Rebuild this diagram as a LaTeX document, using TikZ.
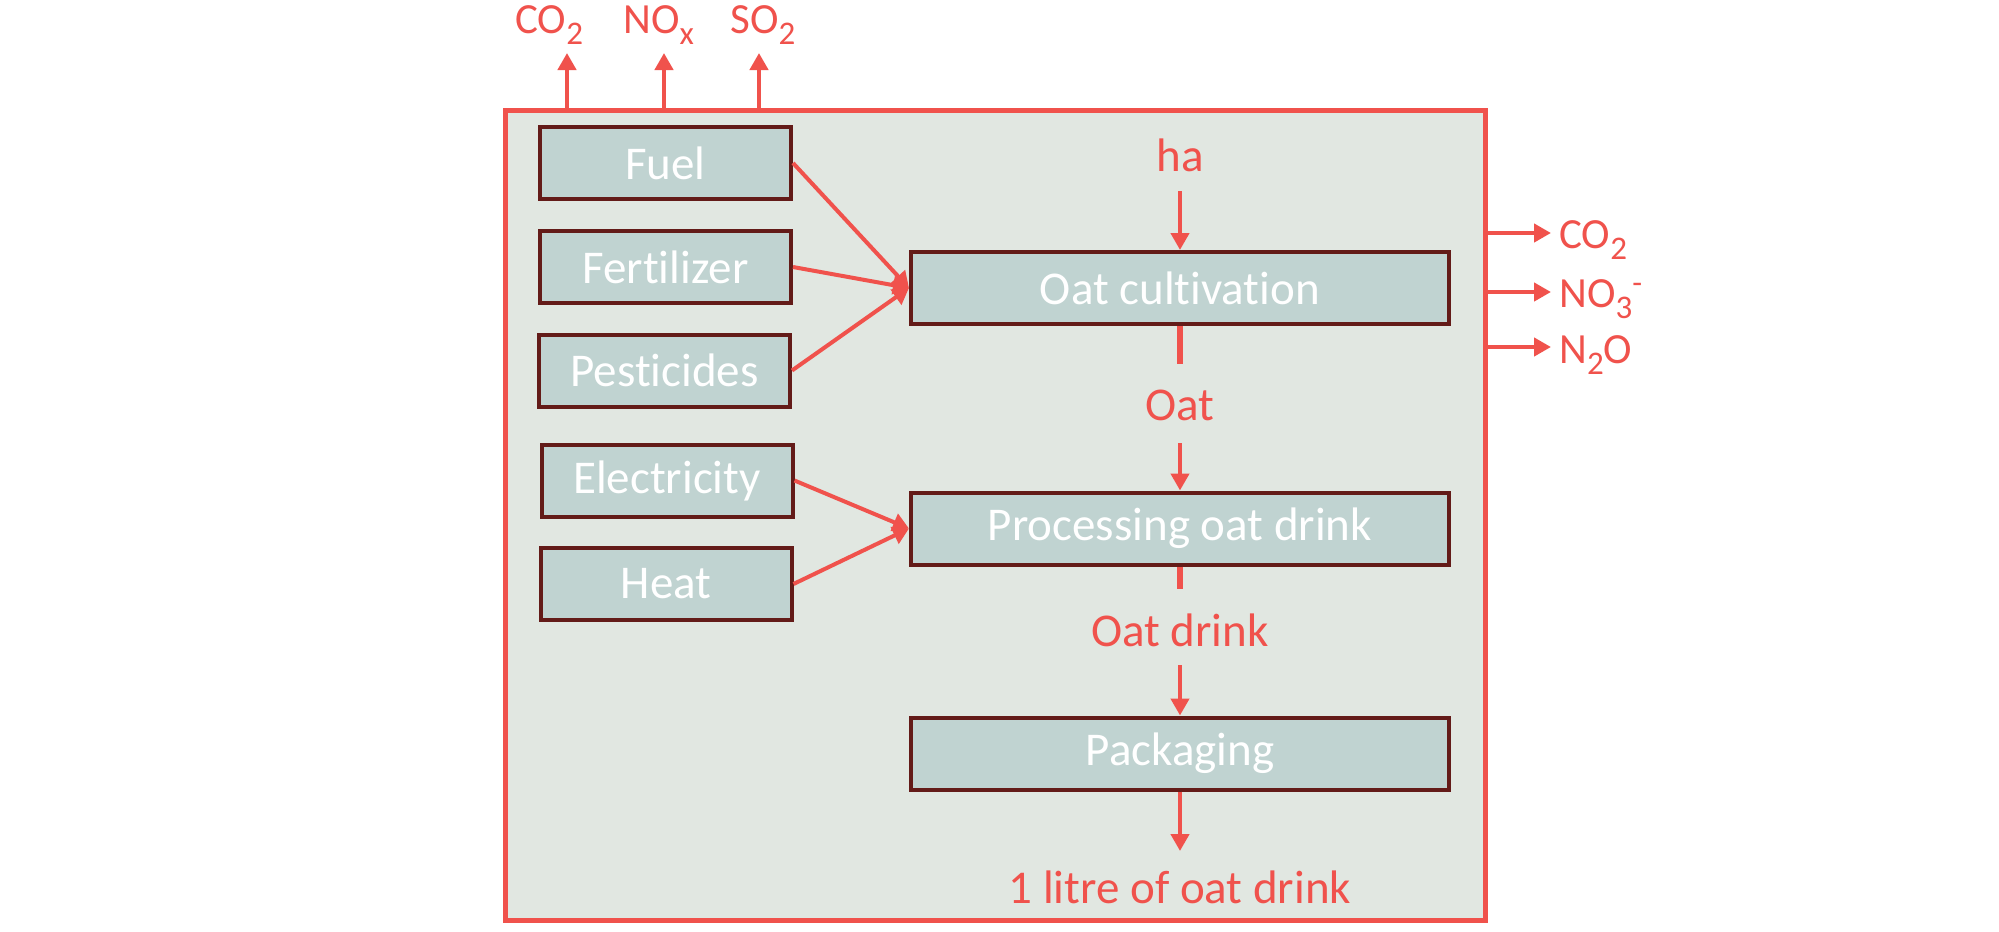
\documentclass[tikz,border=0pt]{standalone}
\usepackage{fontspec}
\setmainfont{Carlito}[Ligatures={NoCommon}]
\usetikzlibrary{arrows.meta}
\definecolor{ored}{RGB}{240,82,76}
\definecolor{maroon}{RGB}{99,27,24}
\definecolor{boxfill}{RGB}{192,211,209}
\definecolor{sysfill}{RGB}{225,231,225}
\newcommand\subsc[1]{\raisebox{-5.5pt}{\fontsize{16.5pt}{16pt}\selectfont #1}}
\newcommand\supsc[1]{\raisebox{7pt}{\fontsize{16pt}{16pt}\selectfont #1}}
\begin{document}
\begin{tikzpicture}[x=0.5pt,y=-0.5pt,
  procbox/.style={draw=maroon,line width=2pt,fill=boxfill,text=white,inner sep=0pt,
    minimum height=36pt,font=\fontsize{23.5pt}{26pt}\selectfont},
  inbox/.style={procbox,minimum width=125.5pt},
  mainbox/.style={procbox,minimum width=269pt},
  flowlabel/.style={text=ored,inner sep=0pt,font=\fontsize{23.5pt}{26pt}\selectfont},
  emlabel/.style={text=ored,inner sep=0pt,font=\fontsize{21.5pt}{24pt}\selectfont},
  arr/.style={draw=ored,line width=2.4pt,-{Triangle[length=8.5pt,width=9pt]}},
  diag/.style={draw=ored,line width=2pt,-{Triangle[length=8pt,width=9pt]}},
  seg/.style={draw=ored,line width=2.6pt}]
\fill[white] (0,0) rectangle (1999,932);
\useasboundingbox (0,0) rectangle (1999,932);
% system boundary
\node[draw=ored,line width=2.4pt,fill=sysfill,minimum width=490pt,minimum height=405pt,inner sep=0pt] (sys) at (995.5,515.5) {};
% input boxes
\node[inbox] (fuel) at (665.5,163) {Fuel};
\node[inbox] (fert) at (665.5,267) {Fertilizer};
\node[inbox] (pest) at (664.5,370.5) {Pesticides};
\node[inbox] (elec) at (667,480.5) {Electricity};
\node[inbox] (heat) at (666,584) {Heat};
% main process boxes
\node[mainbox] (oatc) at (1180,288) {Oat cultivation};
\node[mainbox] (proc) at (1180,528.5) {Processing oat drink};
\node[mainbox] (pack) at (1180,753.5) {Packaging};
% flow labels
\node[flowlabel] (ha) at (1180,155) {ha};
\node[flowlabel] (oat) at (1180,405) {Oat};
\node[flowlabel] (oatd) at (1180,630) {Oat drink};
\node[flowlabel] (litre) at (1180,887) {1 litre of oat drink};
% coordinates of free ends
\coordinate (haS) at (1180,191);
\coordinate (oatA) at (1180,364);
\coordinate (oatB) at (1180,443);
\coordinate (oatdA) at (1180,589);
\coordinate (oatdB) at (1180,665);
\coordinate (litreT) at (1180,851);
% vertical flows
\draw[arr] (haS) -- (oatc.north);
\draw[seg] (oatc.south) -- (oatA);
\draw[arr] (oatB) -- (proc.north);
\draw[seg] (proc.south) -- (oatdA);
\draw[arr] (oatdB) -- (pack.north);
\draw[arr] (pack.south) -- (litreT);
% inputs
\draw[diag] (fuel.east) -- (oatc.west);
\draw[diag] (fert.east) -- (oatc.west);
\draw[diag] (pest.east) -- (oatc.west);
\draw[diag] (elec.east) -- (proc.west);
\draw[diag] (heat.east) -- (proc.west);
% top emissions
\coordinate (t1) at (567,108); \coordinate (t1e) at (567,53);
\coordinate (t2) at (664,108); \coordinate (t2e) at (664,53);
\coordinate (t3) at (759,108); \coordinate (t3e) at (759,53);
\draw[arr] (t1) -- (t1e);
\draw[arr] (t2) -- (t2e);
\draw[arr] (t3) -- (t3e);
\node[emlabel,anchor=base west] (eco2) at (515,33) {CO\subsc{2}};
\node[emlabel,anchor=base west] (enox) at (623,33) {NO\subsc{x}};
\node[emlabel,anchor=base west] (eso2) at (730,33) {SO\subsc{2}};
% right emissions
\coordinate (r1) at (1488,233); \coordinate (r1e) at (1551,233);
\coordinate (r2) at (1488,292); \coordinate (r2e) at (1551,292);
\coordinate (r3) at (1488,347); \coordinate (r3e) at (1551,347);
\draw[arr] (r1) -- (r1e);
\draw[arr] (r2) -- (r2e);
\draw[arr] (r3) -- (r3e);
\node[emlabel,anchor=base west] (rco2) at (1559,248) {CO\subsc{2}};
\node[emlabel,anchor=base west] (rno3) at (1559,307) {NO\subsc{3}\supsc{-}};
\node[emlabel,anchor=base west] (rn2o) at (1559,363) {N\subsc{2}O};
\end{tikzpicture}
\end{document}
